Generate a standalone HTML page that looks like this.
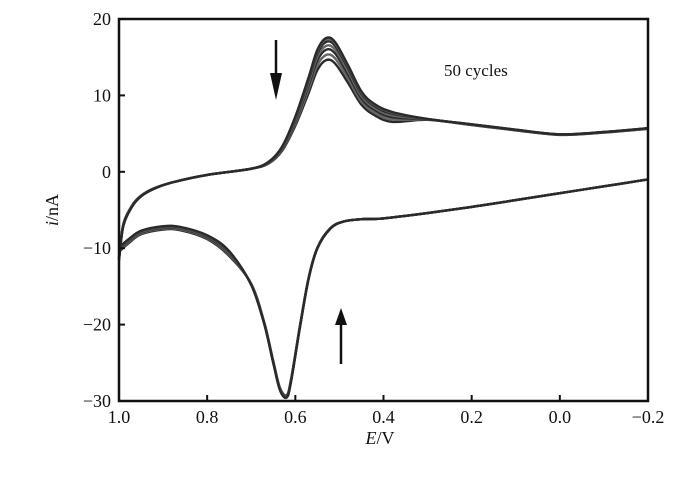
<!DOCTYPE html>
<html><head><meta charset="utf-8">
<style>
body{margin:0;background:#fff;}
svg text{font-family:"Liberation Serif",serif;fill:#111;}
</style></head>
<body>
<svg id="chart" width="700" height="481" viewBox="0 0 700 481" xmlns="http://www.w3.org/2000/svg">
<g id="curves"></g>
<g id="axes"></g>
<text x="444" y="76" font-size="17">50 cycles</text>
<g>
<line x1="276" y1="40" x2="276" y2="86" stroke="#111" stroke-width="2.5"/>
<polygon points="270,73 282,73 276,100" fill="#111"/>
</g>
<g>
<line x1="341" y1="364" x2="341" y2="320" stroke="#111" stroke-width="2.5"/>
<polygon points="335,325 347,325 341,308" fill="#111"/>
</g>
<text x="380" y="444" font-size="18" text-anchor="middle"><tspan font-style="italic">E</tspan>/V</text>
<text transform="translate(58,210) rotate(-90)" font-size="18" text-anchor="middle"><tspan font-style="italic">i</tspan>/nA</text>
</svg>
<script>
const upperE = [1.0,0.99,0.97,0.95,0.92,0.88,0.8,0.7,0.66,0.63,0.6,0.57,0.55,0.53,0.51,0.48,0.45,0.42,0.38,0.3,0.2,0.1,0.0,-0.1,-0.2];
const upperI = [-11.5,-7,-4.5,-3.2,-2.2,-1.4,-0.4,0.4,1.3,3.2,7,12,15.5,17,16.5,13.5,10.2,8.6,7.6,6.9,6.2,5.5,4.9,5.2,5.7];
const lowerE = [-0.2,-0.1,0.0,0.1,0.2,0.3,0.4,0.45,0.49,0.52,0.55,0.57,0.59,0.61,0.62,0.635,0.65,0.67,0.7,0.75,0.8,0.86,0.9,0.95,0.98,1.0];
const lowerI = [-1,-1.9,-2.8,-3.7,-4.6,-5.4,-6.1,-6.2,-6.5,-7.4,-10,-14,-20.5,-27.5,-29.5,-28.5,-25,-20,-14.8,-10.5,-8.4,-7.3,-7.2,-7.8,-9,-10];
const cycleScale = [0.86,0.9,0.94,0.97,1.0,1.02,1.03];
const xTicks = [1.0,0.8,0.6,0.4,0.2,0.0,-0.2];
const xTickLabels = ["1.0","0.8","0.6","0.4","0.2","0.0","\u22120.2"];
const yTicks = [20,10,0,-10,-20,-30];
const yTickLabels = ["20","10","0","\u221210","\u221220","\u221230"];

const X0=119, X1=648, Y0=19, Y1=401;
function xs(e){return X0+(1.0-e)/1.2*(X1-X0);}
function ys(i){return Y1-(i+30)/50*(Y1-Y0);}
function smooth(pts){
  let d='M'+pts[0][0].toFixed(1)+','+pts[0][1].toFixed(1);
  for(let k=0;k<pts.length-1;k++){
    const p0=pts[Math.max(0,k-1)],p1=pts[k],p2=pts[k+1],p3=pts[Math.min(pts.length-1,k+2)];
    const c1=[p1[0]+(p2[0]-p0[0])/6,p1[1]+(p2[1]-p0[1])/6];
    const c2=[p2[0]-(p3[0]-p1[0])/6,p2[1]-(p3[1]-p1[1])/6];
    d+=' C'+c1[0].toFixed(1)+','+c1[1].toFixed(1)+' '+c2[0].toFixed(1)+','+c2[1].toFixed(1)+' '+p2[0].toFixed(1)+','+p2[1].toFixed(1);
  }
  return d;
}
const NS='http://www.w3.org/2000/svg';
const cg=document.getElementById('curves');
cycleScale.forEach((s,ci)=>{
  const up=upperE.map((e,k)=>{const v=upperI[k];const w=(e>0.35&&e<0.7)?v*s:(e>=0.9?v*(0.8+0.2*s):(e<0.35?v*(0.9+0.1*s):v));return [xs(e),ys(w)];});
  const lo=lowerE.map((e,k)=>{const v=lowerI[k];const w=(e>0.5&&e<0.75)?v*(0.94+0.06*s):(e>=0.75?v*(1.35-0.35*s):v);return [xs(e),ys(w)];});
  [up,lo].forEach((pts,bi)=>{
    const p=document.createElementNS(NS,'path');
    p.setAttribute('d',smooth(pts));
    p.setAttribute('fill','none');
    p.setAttribute('stroke',ci%2?'#666':'#2a2a2a');
    p.setAttribute('stroke-width','2.4');
    
    
    cg.appendChild(p);
  });
});
const ag=document.getElementById('axes');
function add(tag,attrs,text){const el=document.createElementNS(NS,tag);for(const k in attrs)el.setAttribute(k,attrs[k]);if(text!==undefined)el.textContent=text;ag.appendChild(el);return el;}
const frame=add('path',{d:`M${X0},${Y0} L${X1},${Y0} L${X1},${Y1} L${X0},${Y1} Z`,fill:'none',stroke:'#111','stroke-width':2.5});


xTicks.forEach((t,k)=>{
  const x=xs(t);
  const tk=add('line',{x1:x,y1:Y1,x2:x,y2:Y1-6,stroke:'#111','stroke-width':2});
  
  
  const lb=add('text',{x:x,y:Y1+22,'font-size':18,'text-anchor':'middle'},xTickLabels[k]);
  
  
});
yTicks.forEach((t,k)=>{
  const y=ys(t);
  const tk=add('line',{x1:X0,y1:y,x2:X0+6,y2:y,stroke:'#111','stroke-width':2});
  
  
  const lb=add('text',{x:X0-8,y:y+6,'font-size':18,'text-anchor':'end'},yTickLabels[k]);
  
  
});
</script>
</body></html>
